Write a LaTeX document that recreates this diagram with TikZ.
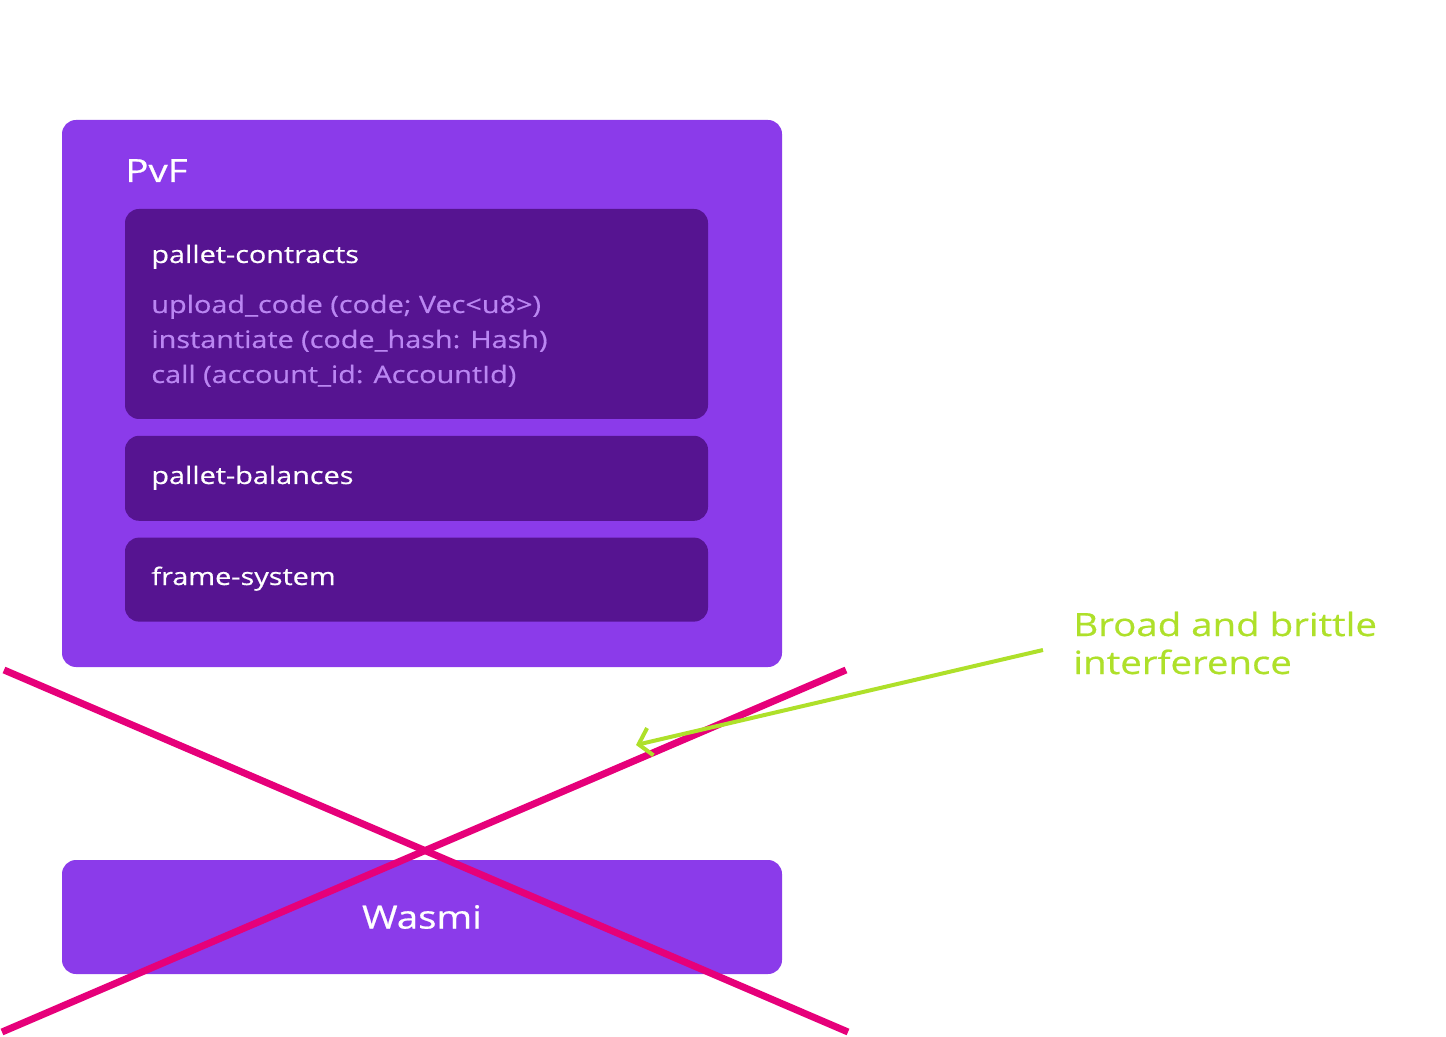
\documentclass[tikz,border=0pt]{standalone}
\usepackage{fontspec}
\setmainfont[FakeStretch=1.2, FakeBold=0.6]{Open Sans}
\usetikzlibrary{arrows.meta, positioning}
\definecolor{pvfpurple}{RGB}{139,59,234}
\definecolor{palletdark}{RGB}{86,20,145}
\definecolor{calltext}{RGB}{186,134,242}
\definecolor{crosspink}{RGB}{230,0,122}
\definecolor{notegreen}{RGB}{174,224,42}
\tikzstyle{block} = [rectangle, rounded corners=7pt, inner sep=0pt]
\tikzstyle{outer} = [block, fill=pvfpurple, minimum width=360pt]
\tikzstyle{pallet} = [block, fill=palletdark, minimum width=291.5pt]
\tikzstyle{title} = [anchor=base west, inner sep=0pt, text=white, font=\fontsize{12}{14}\selectfont]
\tikzstyle{call} = [title, text=calltext]
\tikzstyle{big} = [inner sep=0pt, text=white, font=\fontsize{16}{19}\selectfont]
\tikzstyle{cross} = [line width=3.5pt, crosspink]
\tikzstyle{path} = [-{Straight Barb[length=6pt, width=14pt]}, line width=2pt, notegreen]

\begin{document}
\begin{tikzpicture}[x=0.5pt, y=-0.5pt]
    \useasboundingbox (0,0) rectangle (1446,1037);

    % Boxes.
    \node (pvf) [outer, minimum height=273.5pt] at (422,393.5) {};
    \node (contracts) [pallet, minimum height=105pt] at (416.5,314) {};
    \node (balances) [pallet, minimum height=42.5pt, below=8pt of contracts] {};
    \node (system) [pallet, minimum height=42pt, below=8pt of balances] {};
    \node (wasmi) [outer, minimum height=57pt] at (422,917) {};

    % Labels.
    \node (pvf label) [big, anchor=base west] at (125,182) {PvF};
    \node (contracts label) [title] at (151,263) {pallet-contracts};
    \node (balances label) [title] at (151,484) {pallet-balances};
    \node (system label) [title] at (151,585) {frame-system};
    \foreach \i/\t in {0/{upload\_code (code; Vec<u8>)}, 1/{instantiate (code\_hash: Hash)}, 2/{call (account\_id: AccountId)}} {
        \node (call\i) [call] at (151,313+35*\i) {\t};
    }
    \node (wasmi label) [big] at (wasmi) {Wasmi};

    % Cross.
    \coordinate (cross tl) at (4,670);
    \coordinate (cross br) at (848,1032);
    \coordinate (cross bl) at (2,1032);
    \coordinate (cross tr) at (846,670);
    \draw [cross] (cross tl) -- (cross br);
    \draw [cross] (cross bl) -- (cross tr);

    % Note.
    \node (note) [big, text=notegreen, align=left, anchor=base west, inner xsep=15pt] at (1043,674) {Broad and brittle\\interference};
    \coordinate (tip) at (636,745);
    \draw [path] ([yshift=-3.5pt]note.west) -- (tip);
\end{tikzpicture}
\end{document}
